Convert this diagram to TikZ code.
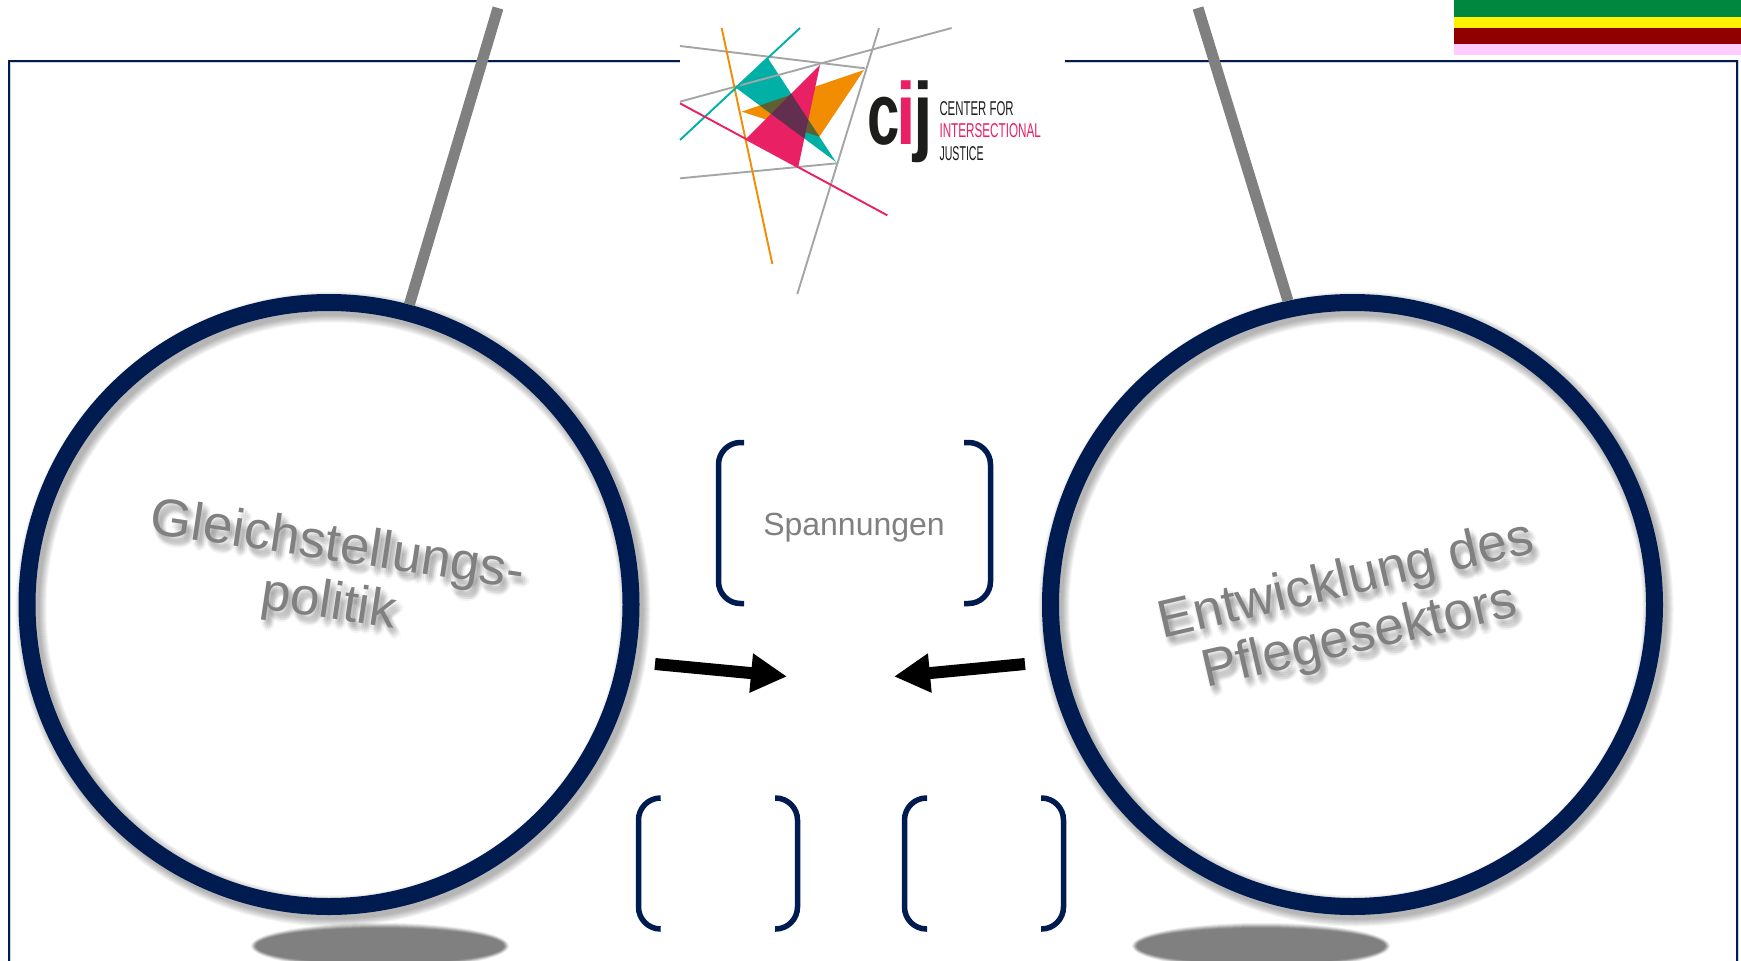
\documentclass[tikz,border=0pt]{standalone}
\usepackage{fontspec}
\usepackage{graphicx}
\setmainfont{Liberation Sans}
\usetikzlibrary{arrows.meta}
\definecolor{navy}{HTML}{001B50}
\definecolor{gtext}{HTML}{808080}
\definecolor{lgray}{HTML}{A3A5A6}
\definecolor{lteal}{HTML}{00B0A6}
\definecolor{lorange}{HTML}{F28C00}
\definecolor{lpink}{HTML}{E92063}
\definecolor{lolive}{HTML}{5F6030}
\definecolor{lplum}{HTML}{62304E}
\definecolor{lblack}{HTML}{1D1D1B}
\tikzset{
  ringnode/.style={circle,draw=navy,line width=17pt,minimum size=604pt,inner sep=0pt},
  ringshadow/.style={circle,draw=black,minimum size=604pt,inner sep=0pt,draw opacity=.04},
  rod/.style={draw=gtext,line width=11pt},
  bracketline/.style={draw=navy,line width=5.5pt,rounded corners=22pt},
  bigarrow/.style={draw=black,line width=12pt,-{Triangle[length=36pt,width=37pt]},shorten >=0pt},
  frameline/.style={draw=navy,line width=1.4pt},
  framehalo/.style={draw=navy!20,line width=3pt},
  bigtext/.style={font=\fontsize{53}{58}\selectfont,align=center,text=gtext},
  blurtext/.style={font=\fontsize{53}{58}\selectfont,align=center,text=black,text opacity=.022},
  midtext/.style={font=\fontsize{32}{38}\selectfont,text=gtext},
  logoline/.style={line width=1.9pt},
  logotext/.style={font=\fontsize{20}{22}\selectfont,anchor=west,inner sep=0pt},
  cijtext/.style={font=\bfseries\fontsize{88}{88}\selectfont,inner sep=0pt,anchor=base},
}
\begin{document}
\begin{tikzpicture}[x=1pt,y=-1pt]
\useasboundingbox (0,0) rectangle (1741,961);
\clip (0,0) rectangle (1741,961);
\fill[white] (0,0) rectangle (1741,961);

% stripes
\fill[fill={rgb,255:red,0;green,135;blue,63}] (1454,0) rectangle (1741,17);
\fill[yellow] (1454,17) rectangle (1741,28);
\fill[fill={rgb,255:red,144;green,0;blue,0}] (1454,28) rectangle (1741,44);
\fill[fill={rgb,255:red,255;green,204;blue,255}] (1454,44) rectangle (1741,55);

% frame
\foreach \st in {framehalo,frameline}{
  \draw[\st] (680,61) -- (9,61) -- (9,975);
  \draw[\st] (1065,61) -- (1737,61) -- (1737,975);
}

% floor shadows
\foreach \dr/\sh in {3/8,2/16,1/26,0/36,-1/44,-2/50}{
  \fill[black!\sh!white] (380,946) ellipse ({126+\dr} and {20+\dr});
  \fill[black!\sh!white] (1261,946) ellipse ({126+\dr} and {20+\dr});
}

% circles
\coordinate (lc) at (329,604.5);
\coordinate (rc) at (1352.5,604.5);
\foreach \w in {31,29,27,25,23,21,19,17}{
  \node[ringshadow,line width=\w pt] (sl\w) at (333,609) {};
  \node[ringshadow,line width=\w pt] (sr\w) at (1356,609) {};
}
\node[ringnode] (gp) at (lc) {};
\node[ringnode] (pf) at (rc) {};

% rods
\coordinate (rodL) at (498,8);
\coordinate (rodR) at (1198,8);
\draw[rod] (rodL) -- (gp.75.5);
\draw[rod] (rodR) -- (pf.102);

% rotated labels
\foreach \dx/\dy/\i in {2/3/a,4/3/b,6/3/c,0/5/d,2/5/e,4/5/f,6/5/g,8/5/h,0/7/i,2/7/j,4/7/k,6/7/l,8/7/m,2/9/n,4/9/o,6/9/p,8/9/q,3/11/r,5/11/s,4/1/t}{
  \node[blurtext,rotate=-8.5] (gs\i) at ({333+\dx},{576+\dy}) {Gleichstellungs-\\politik};
  \node[blurtext,rotate=13] (ps\i) at ({1353+\dx},{610+\dy}) {Entwicklung des\\Pflegesektors};
}
\node[bigtext,rotate=-8.5] (gl) at (333,576) {Gleichstellungs-\\politik};
\node[bigtext,rotate=13] (pl) at (1353,610) {Entwicklung des\\Pflegesektors};

% brackets
\draw[bracketline] (744,442.5) -- (718.5,442.5) -- (718.5,603.5) -- (744,603.5);
\draw[bracketline] (964,442.5) -- (990.5,442.5) -- (990.5,603.5) -- (964,603.5);
\node[midtext] (sp) at (854,528) {Spannungen};

\draw[bracketline] (660,798) -- (638.5,798) -- (638.5,929) -- (660,929);
\draw[bracketline] (775,798) -- (797.5,798) -- (797.5,929) -- (775,929);
\draw[bracketline] (927,798) -- (904.5,798) -- (904.5,929) -- (927,929);
\draw[bracketline] (1041,798) -- (1063.5,798) -- (1063.5,929) -- (1041,929);

% arrows
\coordinate (a1s) at (655,664);
\coordinate (a1e) at (787,676.5);
\coordinate (a2s) at (1025,664);
\coordinate (a2e) at (894,676.5);
\draw[bigarrow] (a1s) -- (a1e);
\draw[bigarrow] (a2s) -- (a2e);

% logo
\begin{scope}[shift={(660,10)},x=0.3333pt,y=-0.3333pt]
  \fill[lorange] (612,180) -- (245,305) -- (478,380) -- cycle;
  \fill[lteal] (322,142) -- (226,232) -- (528,456) -- cycle;
  \begin{scope}
    \clip (322,142) -- (226,232) -- (528,456) -- cycle;
    \fill[lolive] (612,180) -- (245,305) -- (478,380) -- cycle;
  \end{scope}
  \fill[lpink] (480,165) -- (260,385) -- (415,470) -- cycle;
  \begin{scope}
    \clip (322,142) -- (226,232) -- (528,456) -- cycle;
    \fill[lplum] (480,165) -- (260,385) -- (415,470) -- cycle;
  \end{scope}
  \draw[logoline,lgray] (60,108) -- (615,175);
  \draw[logoline,lgray] (60,275) -- (875,54);
  \draw[logoline,lgray] (60,505) -- (530,460);
  \draw[logoline,lgray] (657,54) -- (412,852);
  \draw[logoline,lorange] (185,54) -- (337,762);
  \draw[logoline,lteal] (420,54) -- (60,390);
  \draw[logoline,lpink] (60,280) -- (682,616);
  \node[cijtext,text=lblack] (cijc) at (671,405) {\scalebox{.66}[1]{c}};
  \node[cijtext,text=lpink] (ciji) at (738,405) {\scalebox{.8}[1]{i}};
  \node[cijtext,text=lblack] (cijj) at (789,405) {\scalebox{.8}[1]{j}};
  \node[logotext,text=lblack] (cf) at (838,297) {\scalebox{.57}[1]{CENTER FOR}};
  \node[logotext,text=lpink] (ci) at (838,363) {\scalebox{.585}[1]{INTERSECTIONAL}};
  \node[logotext,text=lblack] (cjt) at (838,431) {\scalebox{.53}[1]{JUSTICE}};
\end{scope}
\end{tikzpicture}
\end{document}
